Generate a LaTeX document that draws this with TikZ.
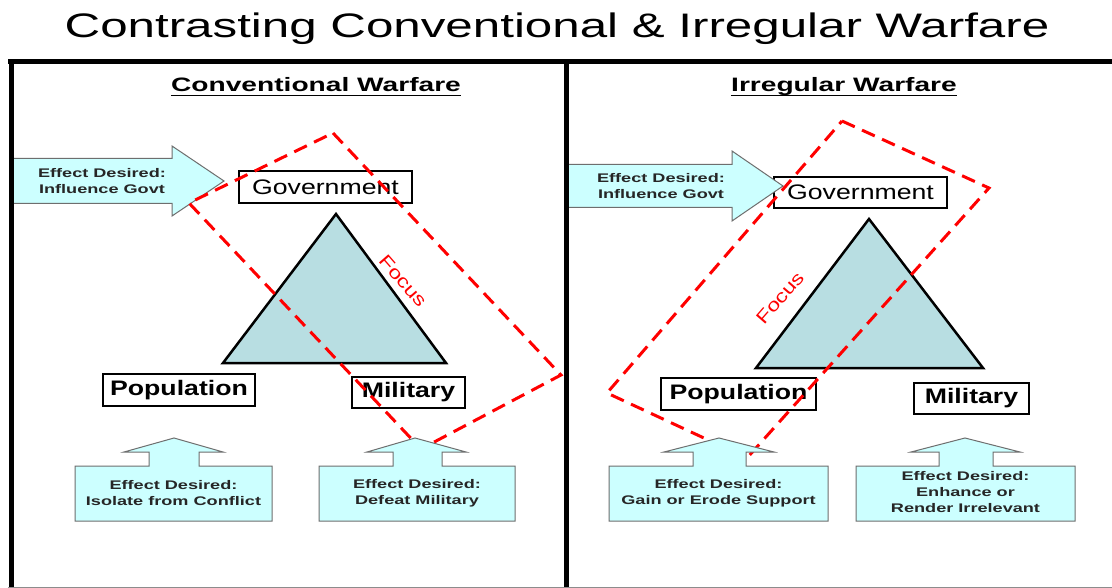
\documentclass[tikz,border=0pt]{standalone}
\usepackage{fontspec}
\setmainfont{Liberation Sans}
\newfontfamily\widefont[FakeStretch=1.45]{Liberation Sans}
\newfontfamily\labfont[FakeStretch=1.27]{Liberation Sans}
\definecolor{cyanfill}{RGB}{204,255,255}
\definecolor{trifill}{RGB}{184,222,226}
\definecolor{arrline}{RGB}{110,110,110}
\definecolor{focusred}{RGB}{255,0,0}
\tikzset{
  titletext/.style={anchor=base, inner sep=0pt, font=\widefont\fontsize{34}{40}\selectfont},
  heading/.style={anchor=base, inner sep=0pt, font=\widefont\bfseries\fontsize{19.4}{22}\selectfont},
  frameline/.style={line width=5pt, black},
  tri/.style={fill=trifill, draw=black, line width=2.5pt, line join=miter},
  lbl/.style={draw=black, fill=white, line width=1.4pt, inner sep=0pt},
  lblreg/.style={lbl, font=\labfont\fontsize{21}{24}\selectfont},
  lblbold/.style={lbl, font=\labfont\bfseries\fontsize{21}{24}\selectfont},
  cyanshape/.style={fill=cyanfill, draw=arrline, line width=1pt, line join=miter},
  efftext/.style={align=center, inner sep=0pt, text=black!85, font=\widefont\bfseries\fontsize{12.5}{16}\selectfont},
  focusline/.style={draw=focusred, line width=3pt, dash pattern=on 14pt off 8pt},
  focustext/.style={inner sep=0pt, text=focusred, font=\labfont\fontsize{18}{20}\selectfont},
}
\newcommand{\uparrowbox}[7]{%
  \path[cyanshape] (#6,521) -- (#6,466) -- (#4,466) -- (#4,452) -- (#2,452) -- (#1,438)
    -- (#3,452) -- (#5,452) -- (#5,466) -- (#7,466) -- (#7,521) -- cycle;}
\begin{document}
\begin{tikzpicture}[x=1pt,y=-1pt]
\useasboundingbox (0,0) rectangle (1112,588);
\fill[white] (0,0) rectangle (1112,588);

% title
\node[titletext] (title) at (557,38) {Contrasting Conventional \& Irregular Warfare};

% headings
\node[heading] (hconv) at (316,92) {Conventional Warfare};
\draw[line width=1.1pt] ([yshift=-3.5pt]hconv.base west) -- ([yshift=-3.5pt]hconv.base east);
\node[heading] (hirr) at (844,92) {Irregular Warfare};
\draw[line width=1.1pt] ([yshift=-3.5pt]hirr.base west) -- ([yshift=-3.5pt]hirr.base east);

% triangles
\path[tri] (336,214) -- (446,363) -- (223,363) -- cycle;
\path[tri] (869,219) -- (983,368) -- (756,368) -- cycle;

% label boxes
\node[lblreg, minimum width=173pt, minimum height=32pt] (govL) at (325.5,187) {Government};
\node[lblbold, minimum width=152pt, minimum height=32pt] (popL) at (179,390) {Population};
\node[lblbold, minimum width=113pt, minimum height=31pt] (milL) at (408.5,392.5) {Military};
\node[lblreg, minimum width=173pt, minimum height=31pt] (govR) at (860.5,192.5) {Government};
\node[lblbold, minimum width=155pt, minimum height=32pt] (popR) at (738.5,394) {Population};
\node[lblbold, minimum width=115pt, minimum height=31pt] (milR) at (971.5,398.5) {Military};

% horizontal arrows
\path[cyanshape] (11,158.5) -- (172,158.5) -- (172,146) -- (224,181) -- (172,216) -- (172,203.5) -- (11,203.5) -- cycle;
\node[efftext] (effGovL) at (102,181) {Effect Desired:\\Influence Govt};
\path[cyanshape] (566,164.5) -- (732,164.5) -- (732,151) -- (783,186) -- (732,221) -- (732,207.5) -- (566,207.5) -- cycle;
\node[efftext] (effGovR) at (661,186) {Effect Desired:\\Influence Govt};

% focus areas
\coordinate (fL1) at (333,133);
\coordinate (fL2) at (561,375);
\coordinate (fL3) at (421,449);
\coordinate (fL4) at (189,203);
\draw[focusline] (fL1) -- (fL2) -- (fL3) -- (fL4) -- cycle;
\coordinate (fR1) at (842,121);
\coordinate (fR2) at (989,188);
\coordinate (fR3) at (747,458);
\coordinate (fR4) at (607,393);
\draw[focusline] (fR1) -- (fR2) -- (fR3) -- (fR4) -- cycle;
\node[focustext, rotate=-49] (focL) at (403,281) {Focus};
\node[focustext, rotate=49] (focR) at (780,298) {Focus};

% up arrows
\uparrowbox{174}{124}{223}{149}{199}{75}{272}
\node[efftext] (effPopL) at (173.5,493.5) {Effect Desired:\\Isolate from Conflict};
\uparrowbox{415}{367}{466}{393}{442}{319}{515}
\node[efftext] (effMilL) at (417,493.5) {Effect Desired:\\Defeat Military};
\uparrowbox{719}{664}{774}{693}{746}{609}{828}
\node[efftext] (effPopR) at (718.5,493.5) {Effect Desired:\\Gain or Erode Support};
\uparrowbox{965}{911}{1020}{939}{993}{856}{1075}
\node[efftext] (effMilR) at (965.5,492.5) {Effect Desired:\\Enhance or\\Render Irrelevant};

% frame
\draw[frameline] (8,62) -- (1112,62);
\draw[frameline] (11,59.5) -- (11,588);
\draw[frameline] (566,62) -- (566,588);
\draw[black!45, line width=1pt] (8,587.5) -- (1112,587.5);
\end{tikzpicture}
\end{document}
